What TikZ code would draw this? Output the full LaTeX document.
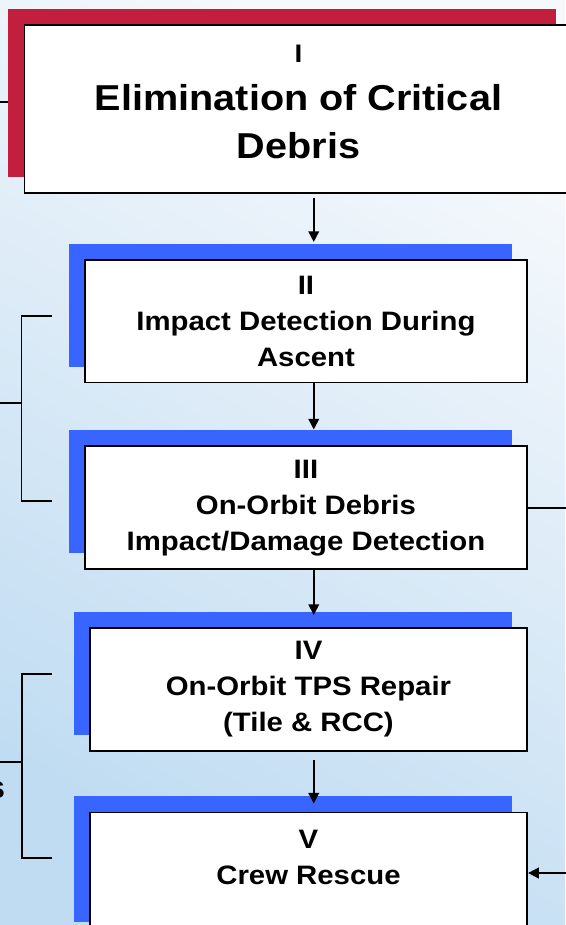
\documentclass[tikz,border=0pt]{standalone}
\usepackage{fontspec}
\setmainfont{Liberation Sans}[FakeStretch=1.1]
\usetikzlibrary{positioning,shadows,arrows.meta}
\definecolor{critred}{RGB}{194,31,62}
\definecolor{stageblue}{RGB}{56,100,255}
\definecolor{bglight}{RGB}{246,249,252}
\definecolor{bgdark}{RGB}{192,220,242}

\begin{document}
\begin{tikzpicture}[
        x=0.75pt, y=-0.75pt,
        goal/.style={
            rectangle, draw=black, line width=1.4pt, fill=white, align=center,
            minimum width=411pt, minimum height=126pt, inner sep=0pt,
            font=\bfseries\fontsize{27}{36}\selectfont,
            general shadow={fill=critred, shadow xshift=-12.75pt, shadow yshift=12pt}
        },
        stage/.style={
            rectangle, draw=black, line width=1.4pt, fill=white, align=center,
            minimum width=332pt, minimum height=92pt, inner sep=0pt,
            font=\bfseries\fontsize{20}{27}\selectfont,
            general shadow={fill=stageblue, shadow xshift=-11.6pt, shadow yshift=12pt}
        },
        link/.style={line width=1.3pt, draw=black},
        flow/.style={link, -{Triangle[length=8pt,width=8pt]}},
    ]
    \useasboundingbox (0,0) rectangle (565,925);
    \shade[top color=bglight, bottom color=bgdark, shading angle=-30] (0,0) rectangle (565,925);

    % loose ends coming in from the left and right
    \coordinate (feedI) at (0,101.7);
    \coordinate (edgeR) at (566,0);
    \coordinate (feedV) at (566,873);
    \coordinate (spine) at (313.75,0);
    \draw[link] (feedI) -- ++(8,0);

    \node (elimination) [goal] at (298.5,109) {{\fontsize{19}{36}\selectfont I}\\Elimination of Critical\\Debris\strut};

    \node (ascent) [stage, below=48.75pt of elimination, xshift=5.6pt] {II\\Impact Detection During\\Ascent};
    \draw[flow, shorten <=3pt, shorten >=12.75pt] (elimination.south -| spine) -- (ascent.north -| spine);

    \node (orbitDetect) [stage, below=46.5pt of ascent] {III\\On-Orbit Debris\\Impact/Damage Detection};
    \draw[flow, shorten >=12pt] (ascent.south -| spine) -- (orbitDetect.north -| spine);
    \draw[link] (orbitDetect.east) -- (orbitDetect.east -| edgeR);

    \node (tpsRepair) [stage, minimum width=328pt, below=42.75pt of orbitDetect, xshift=1.9pt] {IV\\On-Orbit TPS Repair\\(Tile \& RCC)};
    \draw[flow, shorten >=9pt] (orbitDetect.south -| spine) -- (tpsRepair.north -| spine);

    \node (crewRescue) [stage, minimum width=328pt, minimum height=94pt, below=45pt of tpsRepair] {V\\Crew Rescue\\~};
    \draw[flow, shorten <=6pt, shorten >=6pt] (tpsRepair.south -| spine) -- (crewRescue.north -| spine);
    \draw[flow] (feedV) -- (feedV -| crewRescue.east);

    % brackets on the left
    \coordinate (detectTop) at (51.5,316);
    \coordinate (detectBot) at (51.5,501);
    \coordinate (detectIn) at (0,403.3);
    \draw[link] (detectTop) -- ++(-30,0) |- (detectBot);
    \draw[link] (detectIn) -- ++(21.5,0);

    \coordinate (rescueTop) at (51.5,674);
    \coordinate (rescueBot) at (51.5,858);
    \coordinate (rescueIn) at (0,762);
    \draw[link] (rescueTop) -- ++(-29.2,0) |- (rescueBot);
    \draw[link] (rescueIn) -- ++(22.3,0);
    \node (cutLabel) [anchor=east, inner sep=0pt, font=\bfseries\fontsize{24}{28}\selectfont] at (5.5,790) {s};
\end{tikzpicture}
\end{document}
